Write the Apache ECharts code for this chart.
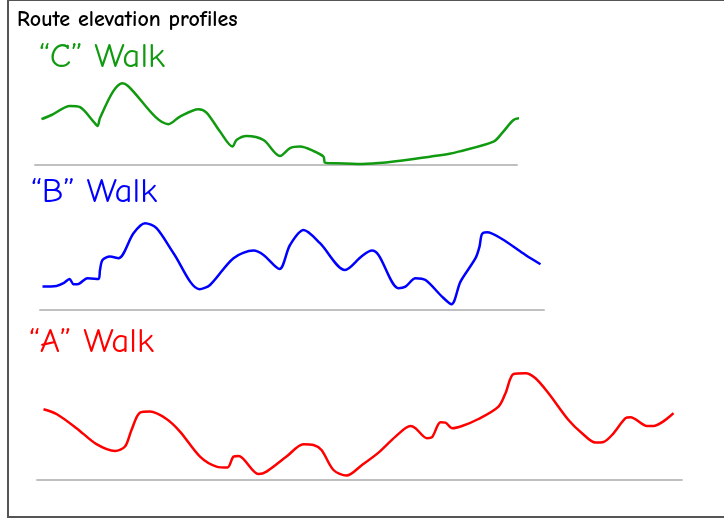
<!DOCTYPE html>
<html><head><meta charset="utf-8">
<script src="https://cdn.jsdelivr.net/npm/echarts@6/dist/echarts.min.js"></script>
<style>html,body{margin:0;padding:0;background:#fff}#c{width:724px;height:521px}</style>
</head><body><div id="c"></div>
<script>
// distance along route (arbitrary units) and elevation (arbitrary units)
const walkNames = ['\u201CC\u201D Walk', '\u201CB\u201D Walk', '\u201CA\u201D Walk'];
const walkColors = ['#109a10', '#0000ff', '#ff0000'];
const cDist = [1.3,3.3,7,9,11.7,12.5,13,15.6,17.5,18.6,26.7,29,32.7,34.3,37,39.5,40.3,42.3,45.7,49,51,53,55.7,57.7,58,59.7,65.4,81.4,84.7,91.7,93.4,95.7,97.1];
const cElev = [22.9,25,29.5,28.9,21.7,19.5,23.5,36.7,40.9,39.5,20.4,24.2,27.9,26.2,16.7,9.2,12.5,14.5,12.5,4.5,8.4,9.2,7,4.2,1.2,0.9,0.5,5,6.7,11.7,15.9,22.5,23.4];
const bDist = [0.5,3.3,4.7,5.9,6.7,7.5,9.5,11.7,12,12.5,14,15.7,18.7,21,23.3,26.7,31.9,34,38.7,42.7,44.7,47.9,50,52.7,56,61,64.4,66.4,67.7,71.7,73.1,75.1,77.1,80.4,82.3,84.1,87.1,87.9,88.4,89.4,92.4,97.1,100.1];
const bElev = [11.7,12,13.4,15.5,12.9,12.9,15.9,15.5,20,25,26.7,25.9,38.4,43.4,40.9,28.4,10.4,12.5,25.9,29.7,27.5,20.5,32.5,40,33.4,20,27,29.7,27.5,10.9,11.7,15.9,15,6.7,2.9,14.2,25.9,31.7,38,38.9,35.5,27.5,22.9];
const aDist = [1.3,3.9,7.9,11.9,15.6,17.6,18.9,20.6,22.6,25.9,28.6,32.6,35.9,38.1,39.3,40.3,44.3,45.9,49.9,53.3,55.3,56.9,59.3,61.9,65,68.3,71.7,74.7,75.7,78,79,80.7,81.7,83,85,88.3,92.3,93.7,95.3,97.7,99.7,102.3,106.3,109,111.7,113.3,115,117.7,118.7,122,123.3,127.3];
const aElev = [35.4,33,25.9,17.9,14.5,16.7,25,33.7,34.2,30.5,24.2,11.7,6.7,6.2,11.7,12,3,4.2,11.7,17.9,17.5,15,5,2.2,7.5,13.7,21.7,27,25.9,20.9,21.4,28.9,28.7,25.9,27,30.5,36.7,43.4,53,53.4,50.9,43.4,30,23.4,18.7,19,22.5,30.9,31.4,27,27,33.4];
const routeLength = [96.4, 100.8, 129];

const font = "'Comic Sans MS','Comic Neue','Comic Sans',cursive,sans-serif";
const zip = (x, y) => x.map((v, i) => [v, y[i]]);
const series = [[cDist, cElev], [bDist, bElev], [aDist, aElev]];
const grids = [
  {left: 35, top: 45, width: 482, height: 120},
  {left: 40, top: 190, width: 504, height: 120},
  {left: 37, top: 360, width: 645, height: 120}
];
const labelPos = [{left: 34, top: 35}, {left: 26, top: 170}, {left: 24, top: 320}];

const chart = echarts.init(document.getElementById('c'), null, {renderer: 'canvas'});
chart.setOption({
  animation: false,
  backgroundColor: '#fff',
  graphic: [{type: 'rect', shape: {x: 8, y: 0, width: 740, height: 517}, style: {fill: 'none', stroke: '#555', lineWidth: 2}, z: 100}],
  title: [{text: 'Route elevation profiles', left: 12, top: 4, textStyle: {fontFamily: font, fontSize: 22, fontWeight: 'bold', color: '#000'}}]
    .concat(walkNames.map((n, i) => ({text: n, left: labelPos[i].left, top: labelPos[i].top, textStyle: {fontFamily: font, fontSize: 35, fontWeight: 'normal', color: walkColors[i]}}))),
  grid: grids,
  xAxis: grids.map((g, i) => ({type: 'value', gridIndex: i, min: 0, max: routeLength[i], axisLine: {show: true, lineStyle: {color: '#c0c0c0', width: 2}}, axisTick: {show: false}, axisLabel: {show: false}, splitLine: {show: false}})),
  yAxis: grids.map((g, i) => ({type: 'value', gridIndex: i, min: 0, max: 60, show: false, splitLine: {show: false}})),
  series: series.map((s, i) => ({type: 'line', xAxisIndex: i, yAxisIndex: i, data: zip(s[0], s[1]), smooth: 0.3, showSymbol: false, clip: false, lineStyle: {color: walkColors[i], width: 2.5}}))
});
</script></body></html>
